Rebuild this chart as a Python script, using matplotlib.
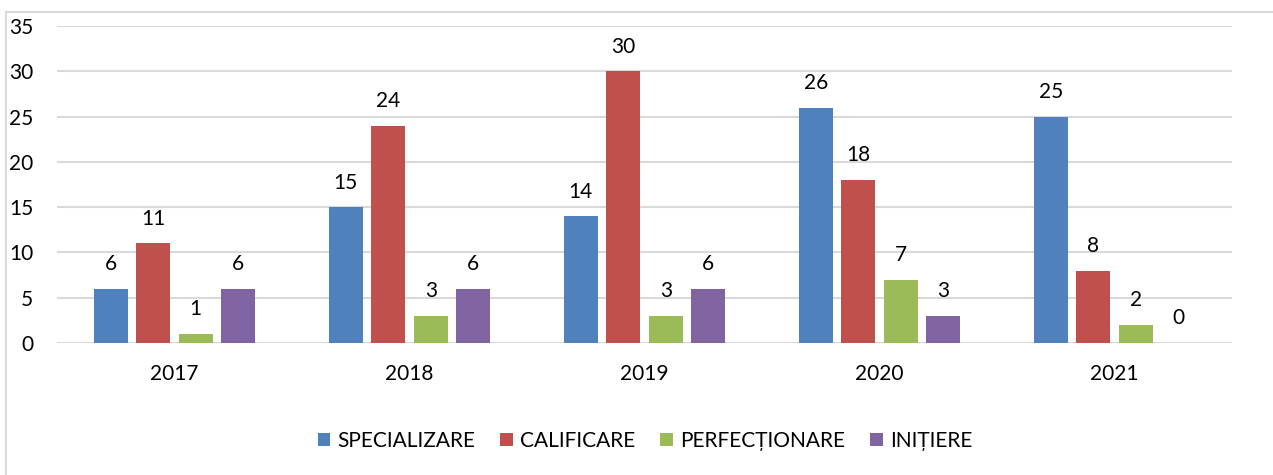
import matplotlib
matplotlib.use("Agg")
import matplotlib.pyplot as plt
import numpy as np
from matplotlib.patches import Rectangle

years = ["2017", "2018", "2019", "2020", "2021"]
specializare = [6, 15, 14, 26, 25]
calificare = [11, 24, 30, 18, 8]
perfectionare = [1, 3, 3, 7, 2]
initiere = [6, 6, 6, 3, 0]

series_names = ["SPECIALIZARE", "CALIFICARE", "PERFECȚIONARE", "INIȚIERE"]
series_values = [specializare, calificare, perfectionare, initiere]
colors = ["#4F81BD", "#C0504D", "#9BBB59", "#8064A2"]

plt.rcParams["font.family"] = ["Lato", "DejaVu Sans"]
FS = 15

fig = plt.figure(figsize=(12.73, 4.75), dpi=100)
ax = fig.add_axes([57 / 1273, 1 - 343 / 475, (1232 - 57) / 1273, (343 - 26) / 475])

# outer chart border
fig.patches.append(Rectangle((6 / 1273, -0.05), 1.1, 1 - 12 / 475 + 0.05,
                             transform=fig.transFigure, fill=False,
                             edgecolor="#D9D9D9", linewidth=1.5))

x = np.arange(len(years))
step = 0.181
width = 0.145
for i, (name, vals, c) in enumerate(zip(series_names, series_values, colors)):
    pos = x + (i - 1.5) * step
    ax.bar(pos, vals, width=width, color=c, label=name, zorder=3)
    for xp, v in zip(pos, vals):
        ax.annotate(str(v), (xp, v), xytext=(0, 10.5), textcoords="offset points",
                    ha="center", va="bottom", fontsize=FS, color="#000000")

ax.set_xlim(-0.5, len(years) - 0.5)
ax.set_ylim(0, 35)
ax.set_yticks(range(0, 36, 5))
ax.set_xticks(x)
ax.set_xticklabels(years)
ax.tick_params(axis="both", length=0, labelsize=FS, colors="#000000")
ax.tick_params(axis="y", pad=17)
ax.tick_params(axis="x", pad=15)
ax.grid(axis="y", color="#D9D9D9", linewidth=1.5, zorder=0)
for s in ax.spines.values():
    s.set_visible(False)

fig.legend(loc="center", bbox_to_anchor=(645 / 1273, 1 - 441 / 475), ncol=4,
           frameon=False, fontsize=FS, handlelength=0.6, handleheight=0.6,
           handletextpad=0.35, columnspacing=1.2)

fig.savefig("out.png", dpi=100)
